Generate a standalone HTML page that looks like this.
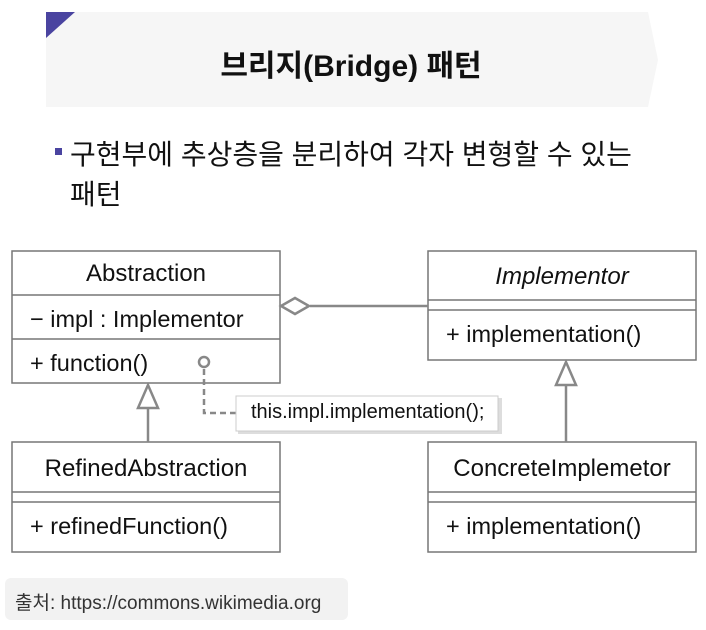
<!DOCTYPE html>
<html><head><meta charset="utf-8"><style>
body{margin:0;width:706px;height:630px;background:#fff;position:relative;overflow:hidden;font-family:"Liberation Sans","Noto Sans CJK KR",sans-serif;color:#111}
.a{position:absolute;white-space:nowrap}
</style></head><body>
<svg class="a" style="left:0;top:0" width="706" height="630">
<polygon points="46,12 648,12 658,60 648,107 46,107" fill="#f6f6f6"/>
<polygon points="46,12 75,12 46,38" fill="#4a44a0"/>
<rect x="55" y="148" width="7" height="7" fill="#4a44a0"/>
<rect x="5" y="578" width="343" height="42" rx="6" fill="#f2f2f2"/>
<g stroke="#777" stroke-width="1.5" fill="#fff">
<rect x="12" y="251" width="268" height="132"/>
<line x1="12" y1="295" x2="280" y2="295"/><line x1="12" y1="339" x2="280" y2="339"/>
<rect x="428" y="251" width="268" height="109"/>
<line x1="428" y1="300" x2="696" y2="300"/><line x1="428" y1="310" x2="696" y2="310"/>
<rect x="12" y="442" width="268" height="110"/>
<line x1="12" y1="492" x2="280" y2="492"/><line x1="12" y1="502" x2="280" y2="502"/>
<rect x="428" y="442" width="268" height="110"/>
<line x1="428" y1="492" x2="696" y2="492"/><line x1="428" y1="502" x2="696" y2="502"/>
</g>
<g stroke="#888" stroke-width="2.5" fill="#fff">
<line x1="310" y1="306" x2="428" y2="306"/>
<polygon points="281,306 295,298 309,306 295,314"/>
<line x1="148" y1="408" x2="148" y2="442"/>
<polygon points="148,385 138,408 158,408"/>
<line x1="566" y1="385" x2="566" y2="442"/>
<polygon points="566,362 556,385 576,385"/>
<circle cx="204" cy="362" r="5"/>
<polyline points="204,369 204,413 236,413" fill="none" stroke-dasharray="6,4"/>
</g>
<rect x="238" y="398" width="264" height="36" fill="#ddd"/>
<rect x="236" y="396" width="262" height="35" fill="#fff" stroke="#ccc"/>
</svg>
<div class="a" style="left:46px;width:610px;top:41px;text-align:center;font-size:30px;font-weight:bold">브리지(Bridge) 패턴</div>
<div class="a" style="left:70px;top:135px;font-size:28px;line-height:40px;width:620px;white-space:normal">구현부에 추상층을 분리하여 각자 변형할 수 있는<br>패턴</div>
<div class="a" style="left:12px;width:268px;top:260px;text-align:center;font-size:24px">Abstraction</div>
<div class="a" style="left:30px;top:306px;font-size:23.5px">− impl : Implementor</div>
<div class="a" style="left:30px;top:350px;font-size:23.5px">+ function()</div>
<div class="a" style="left:428px;width:268px;top:263px;text-align:center;font-size:24px;font-style:italic">Implementor</div>
<div class="a" style="left:446px;top:321px;font-size:23.5px">+ implementation()</div>
<div class="a" style="left:12px;width:268px;top:455px;text-align:center;font-size:24px">RefinedAbstraction</div>
<div class="a" style="left:30px;top:513px;font-size:23.5px">+ refinedFunction()</div>
<div class="a" style="left:428px;width:268px;top:455px;text-align:center;font-size:24px">ConcreteImplemetor</div>
<div class="a" style="left:446px;top:513px;font-size:23.5px">+ implementation()</div>
<div class="a" style="left:251px;top:401px;font-size:20px">this.impl.implementation();</div>
<div class="a" style="left:15px;top:588px;font-size:19px;color:#333">출처: https://commons.wikimedia.org</div>
</body></html>
